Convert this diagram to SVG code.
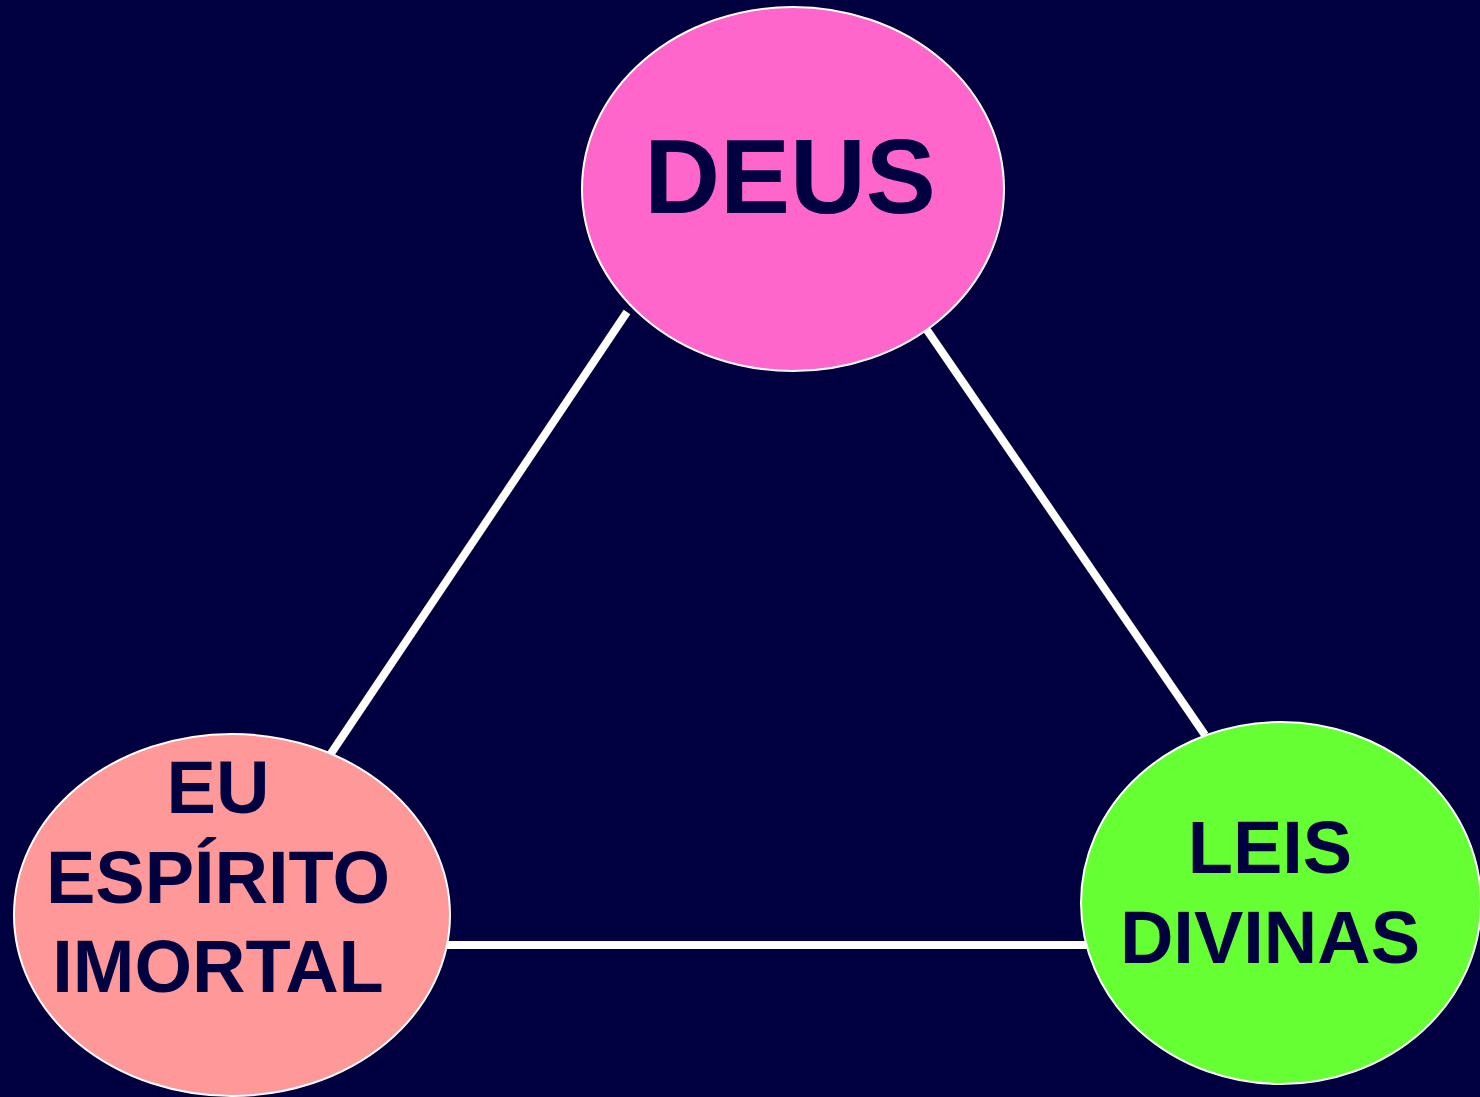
<svg xmlns="http://www.w3.org/2000/svg" width="1480" height="1097" viewBox="0 0 1480 1097">
<style>
.node{stroke:#ffffff;stroke-width:2}
.lbl{font-family:"Liberation Sans",Arial,sans-serif;font-weight:bold;fill:#000040;text-anchor:middle}
.conn line{stroke:#ffffff;stroke-width:8}
</style>
<rect x="0" y="0" width="1480" height="1097" fill="#000040"/>
<g id="connectors" class="conn">
<line x1="627" y1="312" x2="330" y2="755"/>
<line x1="927" y1="330" x2="1205" y2="735"/>
<line x1="447" y1="945" x2="1087" y2="945"/>
</g>
<g id="deus">
<ellipse class="node" cx="793" cy="189" rx="211" ry="182" fill="#ff66cc"/>
<text class="lbl" x="790" y="213" font-size="105">DEUS</text>
</g>
<g id="eu">
<ellipse class="node" cx="232" cy="915" rx="218" ry="181" fill="#ff9999"/>
<text class="lbl" x="218" y="813" font-size="74">EU</text>
<text class="lbl" x="218" y="903" font-size="74">ESPÍRITO</text>
<text class="lbl" x="218" y="992" font-size="74">IMORTAL</text>
</g>
<g id="leis">
<ellipse class="node" cx="1281" cy="903" rx="200" ry="181" fill="#66ff33"/>
<text class="lbl" x="1270" y="873" font-size="74">LEIS</text>
<text class="lbl" x="1270" y="963" font-size="74">DIVINAS</text>
</g>
</svg>
